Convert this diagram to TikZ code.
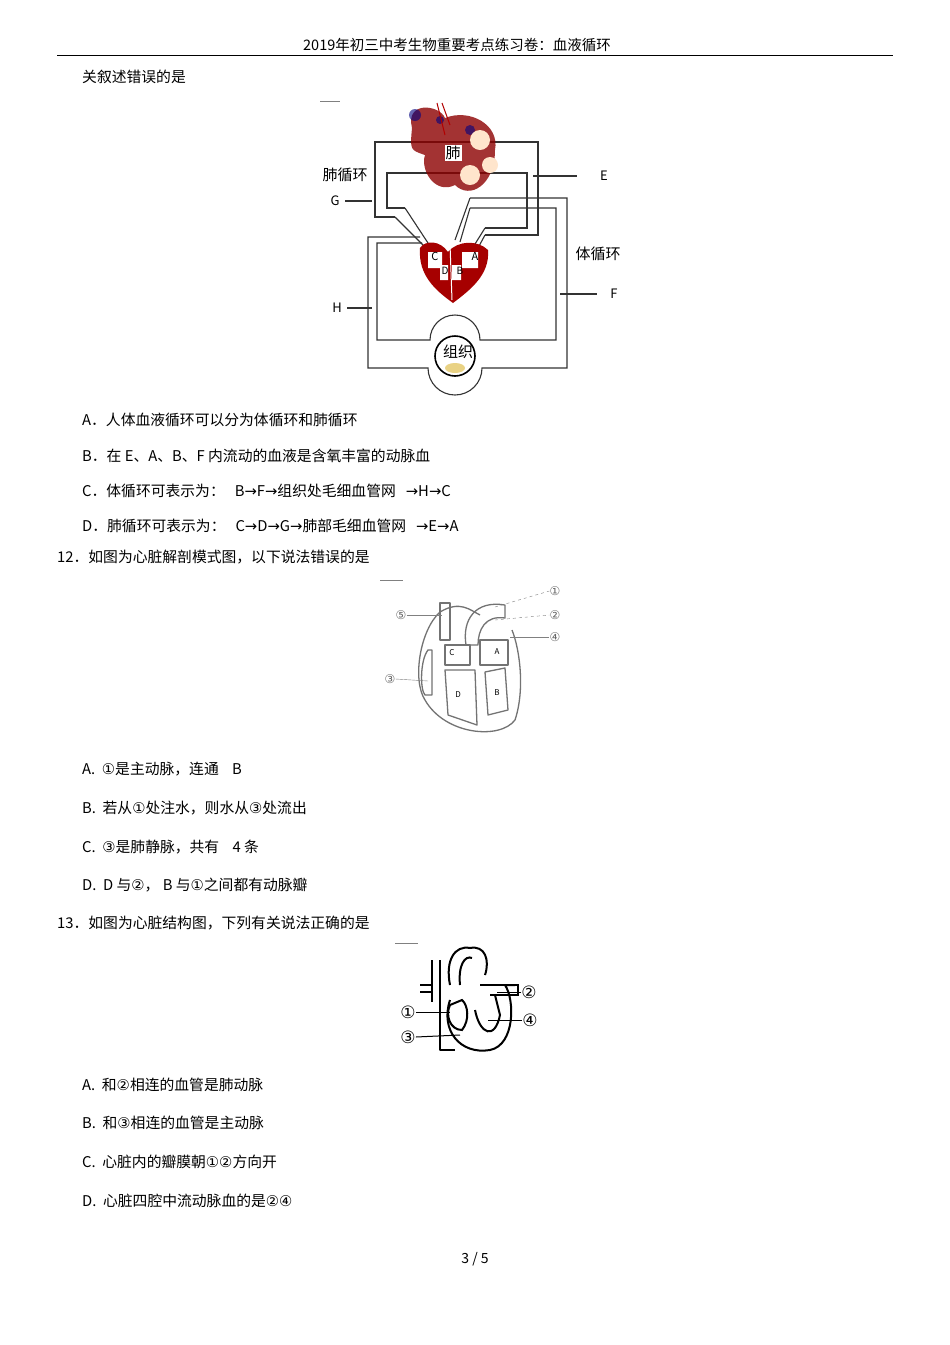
\documentclass[tikz,border=0pt]{standalone}
\usepackage{fontspec}
\setmainfont{Noto Sans CJK SC}
\newfontfamily\dv{DejaVu Sans}
\begin{document}
\begin{tikzpicture}[x=1pt,y=-1pt,
  txt/.style={anchor=west,inner sep=0pt,font=\fontsize{14.8}{14.8}\selectfont},
  lab/.style={inner sep=0pt,font=\fontsize{13}{13}\selectfont},
  ln/.style={line width=1.1pt,black!80},
  hl/.style={line width=1.3pt,black!75,line join=round}]
\useasboundingbox (0,0) rectangle (950,1345);
\fill[white] (0,0) rectangle (950,1345);
\node[lab,font=\fontsize{14.5}{14.5}\selectfont] (hdr) at (457,45) {2019年初三中考生物重要考点练习卷：血液循环};
\draw[line width=0.6pt] (57,55) -- (893,55);
\node[txt] (t0) at (82,77) {关叙述错误的是};
% diagram 1
\draw[gray,line width=0.7pt] (320,101)--(340,101);
\draw[ln] (395,217)--(375,217)--(375,142)--(538,142)--(538,235)--(485,235);
\draw[ln] (405,208)--(387,208)--(387,173)--(527,173)--(527,228)--(485,228);
\draw[ln] (420,237)--(368,237)--(368,368)--(428,368) arc(180:0:27)--(567,368)--(567,198)--(470,198);
\draw[ln] (422,243)--(377,243)--(377,340)--(430,340) arc(180:360:25) -- (556,340)--(556,208)--(470,208);
\draw[ln] (405,208)--(428,243);
\draw[ln] (395,217)--(424,246);
\draw[ln] (470,198)--(455,240);
\draw[ln] (470,208)--(460,242);
\draw[ln] (485,228)--(475,244);
\draw[ln] (485,235)--(478,248);
\draw[line width=1.6pt] (455,356) circle (20);
% lungs
\fill[red!55!black,opacity=0.8] (412,128) .. controls (405,100) and (440,105) .. (445,118) .. controls (470,108) and (500,125) .. (495,150) .. controls (495,185) and (470,200) .. (455,185) .. controls (435,195) and (420,170) .. (425,155) .. controls (410,150) .. (412,128);
\fill[blue!50!black,opacity=0.6] (415,115) circle (6) (470,130) circle (5) (440,120) circle (4);
\fill[orange!20] (480,140) circle (10) (470,175) circle (10) (490,165) circle (8);
\draw[red!70!black,line width=1pt] (437,103)--(445,135) (442,103)--(450,125);
\node[fill=white,inner sep=1pt,font=\fontsize{15}{15}\selectfont] (fei) at (453,153) {肺};
% heart
\fill[red!65!black] (420,248) .. controls (425,240) and (440,240) .. (448,252) .. controls (458,240) and (478,240) .. (488,250) .. controls (490,275) and (470,290) .. (453,303) .. controls (435,290) and (418,275) .. (420,248);
\fill[white] (428,252) rectangle (442,268) (462,252) rectangle (478,268) (440,265) rectangle (448,280) (452,265) rectangle (461,280);
\draw[white,line width=1pt] (450,244)--(452,300);
\node[lab,font=\fontsize{11}{11}\selectfont] (C) at (435,256) {C};
\node[lab,font=\fontsize{11}{11}\selectfont] (A) at (475,256) {A};
\node[lab,font=\fontsize{10}{10}\selectfont] (D) at (445,271) {D};
\node[lab,font=\fontsize{10}{10}\selectfont] (B) at (460,271) {B};
\fill[yellow!40!brown!60] (455,368) ellipse (10 and 5);
\node[lab,font=\fontsize{15}{15}\selectfont] (zz) at (458,352) {组织};
\node[lab,font=\fontsize{15}{15}\selectfont] (fx) at (345,175) {肺循环};
\node[lab,font=\fontsize{15}{15}\selectfont] (tx) at (598,254) {体循环};
\node[lab] (G) at (335,201) {G};
\node[lab] (E) at (604,176) {E};
\node[lab] (F) at (614,294) {F};
\node[lab] (H) at (337,308) {H};
\coordinate (g1) at (372,201); \draw[ln] (345,201)--(g1);
\coordinate (e1) at (533,176); \draw[ln] (e1)--(577,176);
\coordinate (f1) at (560,294); \draw[ln] (f1)--(597,294);
\coordinate (h1) at (372,308); \draw[ln] (347,308)--(h1);
\node[txt] (a1) at (82,420) {A．人体血液循环可以分为体循环和肺循环};
\node[txt] (b1) at (82,456) {B．在 E、A、B、F 内流动的血液是含氧丰富的动脉血};
\node[txt] (c1) at (82,491) {C．体循环可表示为：\ \ \ B{\dv →}F{\dv →}组织处毛细血管网\ \ \ {\dv →}H{\dv →}C};
\node[txt] (d1) at (82,526) {D．肺循环可表示为：\ \ \ C{\dv →}D{\dv →}G{\dv →}肺部毛细血管网\ \ \ {\dv →}E{\dv →}A};
\node[txt] (q12) at (57,557) {12．如图为心脏解剖模式图，以下说法错误的是};
% diagram 2
\draw[gray,line width=0.7pt] (380,580)--(403,580);
\draw[hl,black!55] (440,612) .. controls (420,630) and (412,680) .. (425,700) .. controls (445,735) and (500,740) .. (515,720) .. controls (525,690) and (520,650) .. (512,630);
\draw[hl,black!55] (440,612) .. controls (460,600) and (470,610) .. (480,615);
\draw[hl,black!55] (440,603) rectangle (450,640);
\draw[hl,black!55] (466,645) .. controls (462,620) and (475,600) .. (505,605) -- (505,618) .. controls (485,615) and (478,630) .. (478,645) -- cycle;
\draw[hl,black!55] (428,650) .. controls (420,660) and (420,690) .. (425,695) -- (432,695) -- (432,650) -- cycle;
\draw[hl,black!55] (445,645) rectangle (470,665) (480,640) rectangle (508,665);
\draw[hl,black!55] (445,670) -- (475,670) -- (477,725) -- (448,715) -- cycle;
\draw[hl,black!55] (485,672) -- (505,668) -- (508,710) -- (488,715) -- cycle;
\node[lab,font=\fontsize{8}{8}\selectfont] (c2) at (452,653) {C};
\node[lab,font=\fontsize{8}{8}\selectfont] (a2) at (497,652) {A};
\node[lab,font=\fontsize{8}{8}\selectfont] (d2) at (458,695) {D};
\node[lab,font=\fontsize{8}{8}\selectfont] (b2) at (497,693) {B};
\node[lab,black!60,font=\dv\fontsize{12}{12}\selectfont] (n5) at (401,615) {⑤};
\node[lab,black!60,font=\dv\fontsize{12}{12}\selectfont] (n1) at (555,591) {①};
\node[lab,black!60,font=\dv\fontsize{12}{12}\selectfont] (n2) at (555,615) {②};
\node[lab,black!60,font=\dv\fontsize{12}{12}\selectfont] (n4) at (555,637) {④};
\node[lab,black!60,font=\dv\fontsize{12}{12}\selectfont] (n3) at (390,679) {③};
\draw[black!50] (n5.east)--(442,615);
\draw[black!50,dashed] (495,607)--(n1.west);
\draw[black!50,dashed] (495,620)--(n2.west);
\draw[black!50] (510,637)--(n4.west);
\draw[black!50] (n3.east)--(428,681);
\node[txt] (a2t) at (82,769) {A.\ \ {\dv ①}是主动脉，连通\ \ \ \ B};
\node[txt] (b2t) at (82,808) {B.\ \ 若从{\dv ①}处注水，则水从{\dv ③}处流出};
\node[txt] (c2t) at (82,847) {C.\ \ {\dv ③}是肺静脉，共有\ \ \ \ 4 条};
\node[txt] (d2t) at (82,885) {D.\ \ D 与{\dv ②}，\ B 与{\dv ①}之间都有动脉瓣};
\node[txt] (q13) at (57,923) {13．如图为心脏结构图，下列有关说法正确的是};
% diagram 3
\draw[gray,line width=0.7pt] (395,943)--(418,943);
\draw[line width=2pt,line join=round] (440,960)--(440,1050)--(455,1050) (432,960)--(432,1002);
\draw[line width=2pt] (450,985) .. controls (445,960) and (455,945) .. (470,948) .. controls (485,945) and (490,960) .. (485,975);
\draw[line width=2pt] (460,985) .. controls (458,965) and (465,955) .. (472,958);
\draw[line width=2pt] (450,1000) .. controls (440,1030) and (460,1055) .. (490,1050) .. controls (515,1045) and (515,1000) .. (505,985) -- (515,985);
\draw[line width=2pt] (480,985) -- (518,985) -- (518,995) -- (490,995);
\draw[line width=2pt] (450,1005) .. controls (445,1015) and (450,1030) .. (462,1030) .. controls (470,1020) and (468,1005) .. (462,1000) -- cycle;
\draw[line width=2pt] (475,1010) .. controls (480,1035) and (495,1040) .. (500,1015) -- (495,995);
\draw[line width=2pt] (420,985)--(432,985) (420,992)--(432,992);
\node[lab,font=\dv\fontsize{17}{17}\selectfont] (m1) at (408,1012) {①};
\node[lab,font=\dv\fontsize{17}{17}\selectfont] (m2) at (529,992) {②};
\node[lab,font=\dv\fontsize{17}{17}\selectfont] (m3) at (408,1037) {③};
\node[lab,font=\dv\fontsize{17}{17}\selectfont] (m4) at (530,1020) {④};
\draw[line width=1pt] (m1.east)--(450,1012);
\draw[line width=1pt] (m2.west)--(497,992);
\draw[line width=1pt] (m3.east)--(460,1035);
\draw[line width=1pt] (m4.west)--(488,1020);
\node[txt] (a3t) at (82,1085) {A.\ \ 和{\dv ②}相连的血管是肺动脉};
\node[txt] (b3t) at (82,1123) {B.\ \ 和{\dv ③}相连的血管是主动脉};
\node[txt] (c3t) at (82,1162) {C.\ \ 心脏内的瓣膜朝{\dv ①②}方向开};
\node[txt] (d3t) at (82,1201) {D.\ \ 心脏四腔中流动脉血的是{\dv ②④}};
\node[lab,font=\fontsize{14}{14}\selectfont] (pg) at (475,1259) {3 / 5};
\end{tikzpicture}
\end{document}
